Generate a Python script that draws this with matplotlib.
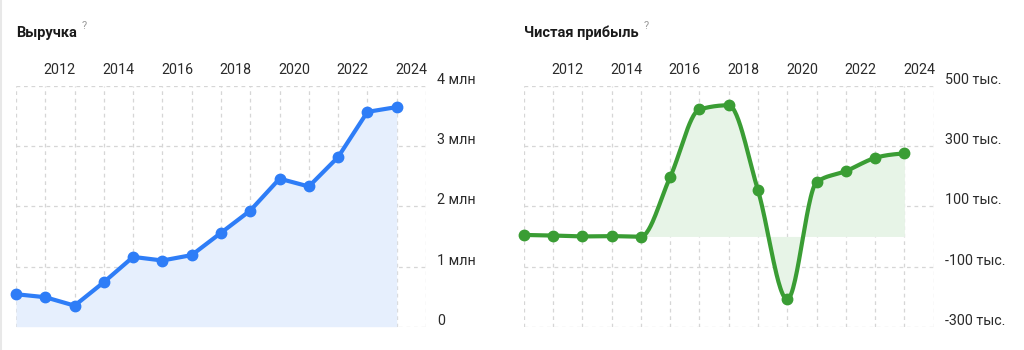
import numpy as np
import matplotlib
matplotlib.use("Agg")
import matplotlib.pyplot as plt
from matplotlib.transforms import offset_copy, blended_transform_factory

# ---- data ----
years = [2010, 2011, 2012, 2013, 2014, 2015, 2016, 2017, 2018, 2019, 2020, 2021, 2022, 2023]
revenue_mln = [0.54, 0.49, 0.35, 0.74, 1.16, 1.10, 1.19, 1.56, 1.93, 2.46, 2.33, 2.82, 3.57, 3.65]
profit_k = [5, 3, 0, 1, -1, 197, 422, 436, 153, -209, 180, 217, 261, 276]
year_ticks = [2012, 2014, 2016, 2018, 2020, 2022, 2024]
rev_ticks = [0, 1, 2, 3, 4]
rev_tick_labels = ["0", "1 млн", "2 млн", "3 млн", "4 млн"]
prof_ticks = [-300, -100, 100, 300, 500]
prof_tick_labels = ["-300 тыс.", "-100 тыс.", "100 тыс.", "300 тыс.", "500 тыс."]
titles = ["Выручка", "Чистая прибыль"]

FONT = ["Roboto", "DejaVu Sans"]
BLUE = "#2e7df7"
BLUE_FILL = "#e6effd"
GREEN = "#3a9d34"
GREEN_FILL = "#e7f4e7"
GRID = "#d6d6d6"
TXT = "#2a2a2a"


def monotone_x(x, y, n=30):
    x = np.asarray(x, float)
    y = np.asarray(y, float)
    m = len(x)
    h = np.diff(x)
    s = np.diff(y) / h
    t = np.zeros(m)
    for i in range(1, m - 1):
        s0, s1 = s[i - 1], s[i]
        p = (s0 * h[i] + s1 * h[i - 1]) / (h[i - 1] + h[i])
        t[i] = (np.sign(s0) + np.sign(s1)) * min(abs(s0), abs(s1), 0.5 * abs(p))
    t[0] = (3 * s[0] - t[1]) / 2
    t[-1] = (3 * s[-1] - t[-2]) / 2
    xs, ys = [], []
    for i in range(m - 1):
        u = np.linspace(0, 1, n, endpoint=(i == m - 2))
        dx = h[i]
        p0 = (x[i], y[i])
        p1 = (x[i] + dx / 3, y[i] + dx * t[i] / 3)
        p2 = (x[i + 1] - dx / 3, y[i + 1] - dx * t[i + 1] / 3)
        p3 = (x[i + 1], y[i + 1])
        bx = (1 - u) ** 3 * p0[0] + 3 * (1 - u) ** 2 * u * p1[0] + 3 * (1 - u) * u ** 2 * p2[0] + u ** 3 * p3[0]
        by = (1 - u) ** 3 * p0[1] + 3 * (1 - u) ** 2 * u * p1[1] + 3 * (1 - u) * u ** 2 * p2[1] + u ** 3 * p3[1]
        xs.append(bx)
        ys.append(by)
    return np.concatenate(xs), np.concatenate(ys)


fig = plt.figure(figsize=(10.24, 3.5), dpi=100)
W, H = 1024, 350

# card border line at far left
fig.add_artist(plt.Line2D([1 / W, 1 / W], [0, 1], color="#e8e8e8", lw=1.5, transform=fig.transFigure))

ax_bottom = (350 - 326.7) / H
ax_height = (326.7 - 86) / H
ax1 = fig.add_axes([16 / W, ax_bottom, 410 / W, ax_height])
ax2 = fig.add_axes([523.7 / W, ax_bottom, 410 / W, ax_height])

xs = np.array(years, float) + 0.5


def style_axis(ax, yt, ytl):
    for sp in ax.spines.values():
        sp.set_visible(False)
    ax.set_xlim(years[0] + 0.5, years[-1] + 1.5)
    ax.set_ylim(yt[0], yt[-1])
    for yr in range(years[0], years[-1] + 2):
        ax.axvline(yr + 0.5, color=GRID, lw=0.9, ls=(0, (3, 3)), zorder=0)
    for v in yt:
        ax.axhline(v, color=GRID, lw=0.9, ls=(0, (3, 3)), zorder=0)
    ax.set_yticks([])
    ax.xaxis.tick_top()
    ax.set_xticks(year_ticks)
    ax.set_xticklabels([str(y) for y in year_ticks], family=FONT, fontsize=10.3, color=TXT)
    ax.tick_params(axis="x", length=0, pad=6.5)
    tr = blended_transform_factory(ax.transAxes, ax.transData)
    tr = offset_copy(tr, fig=fig, x=11, y=6, units="dots")
    for v, lab in zip(yt, ytl):
        ax.text(1.0, v, lab, transform=tr, ha="left", va="center",
                family=FONT, fontsize=10.3, color=TXT)


style_axis(ax1, rev_ticks, rev_tick_labels)
style_axis(ax2, prof_ticks, prof_tick_labels)

# revenue
ax1.fill_between(xs, revenue_mln, 0, color=BLUE_FILL, lw=0, zorder=1)
ax1.plot(xs, revenue_mln, color=BLUE, lw=3, marker="o", ms=7.5,
         solid_joinstyle="round", clip_on=False, zorder=3)

# profit
cx, cy = monotone_x(xs, profit_k)
ax2.fill_between(cx, cy, 0, color=GREEN_FILL, lw=0, zorder=1)
ax2.plot(cx, cy, color=GREEN, lw=3, solid_capstyle="round", clip_on=False, zorder=3)
ax2.plot(xs, profit_k, ls="none", marker="o", ms=7.5, color=GREEN, clip_on=False, zorder=4)

# titles
renderer = fig.canvas.get_renderer()
for axx, ttl in [(16, titles[0]), (524.5, titles[1])]:
    t = fig.text(axx / W, 1 - 33 / H, ttl, family=FONT, fontsize=10.5, fontweight="bold",
                 color="#1a1a1a", ha="left", va="center")
    bb = t.get_window_extent(renderer=renderer)
    fig.text((bb.x1 + 5) / W, 1 - 26 / H, "?", family=FONT, fontsize=8, color="#9a9a9a",
             ha="left", va="center")

fig.savefig("out.png", dpi=100)
